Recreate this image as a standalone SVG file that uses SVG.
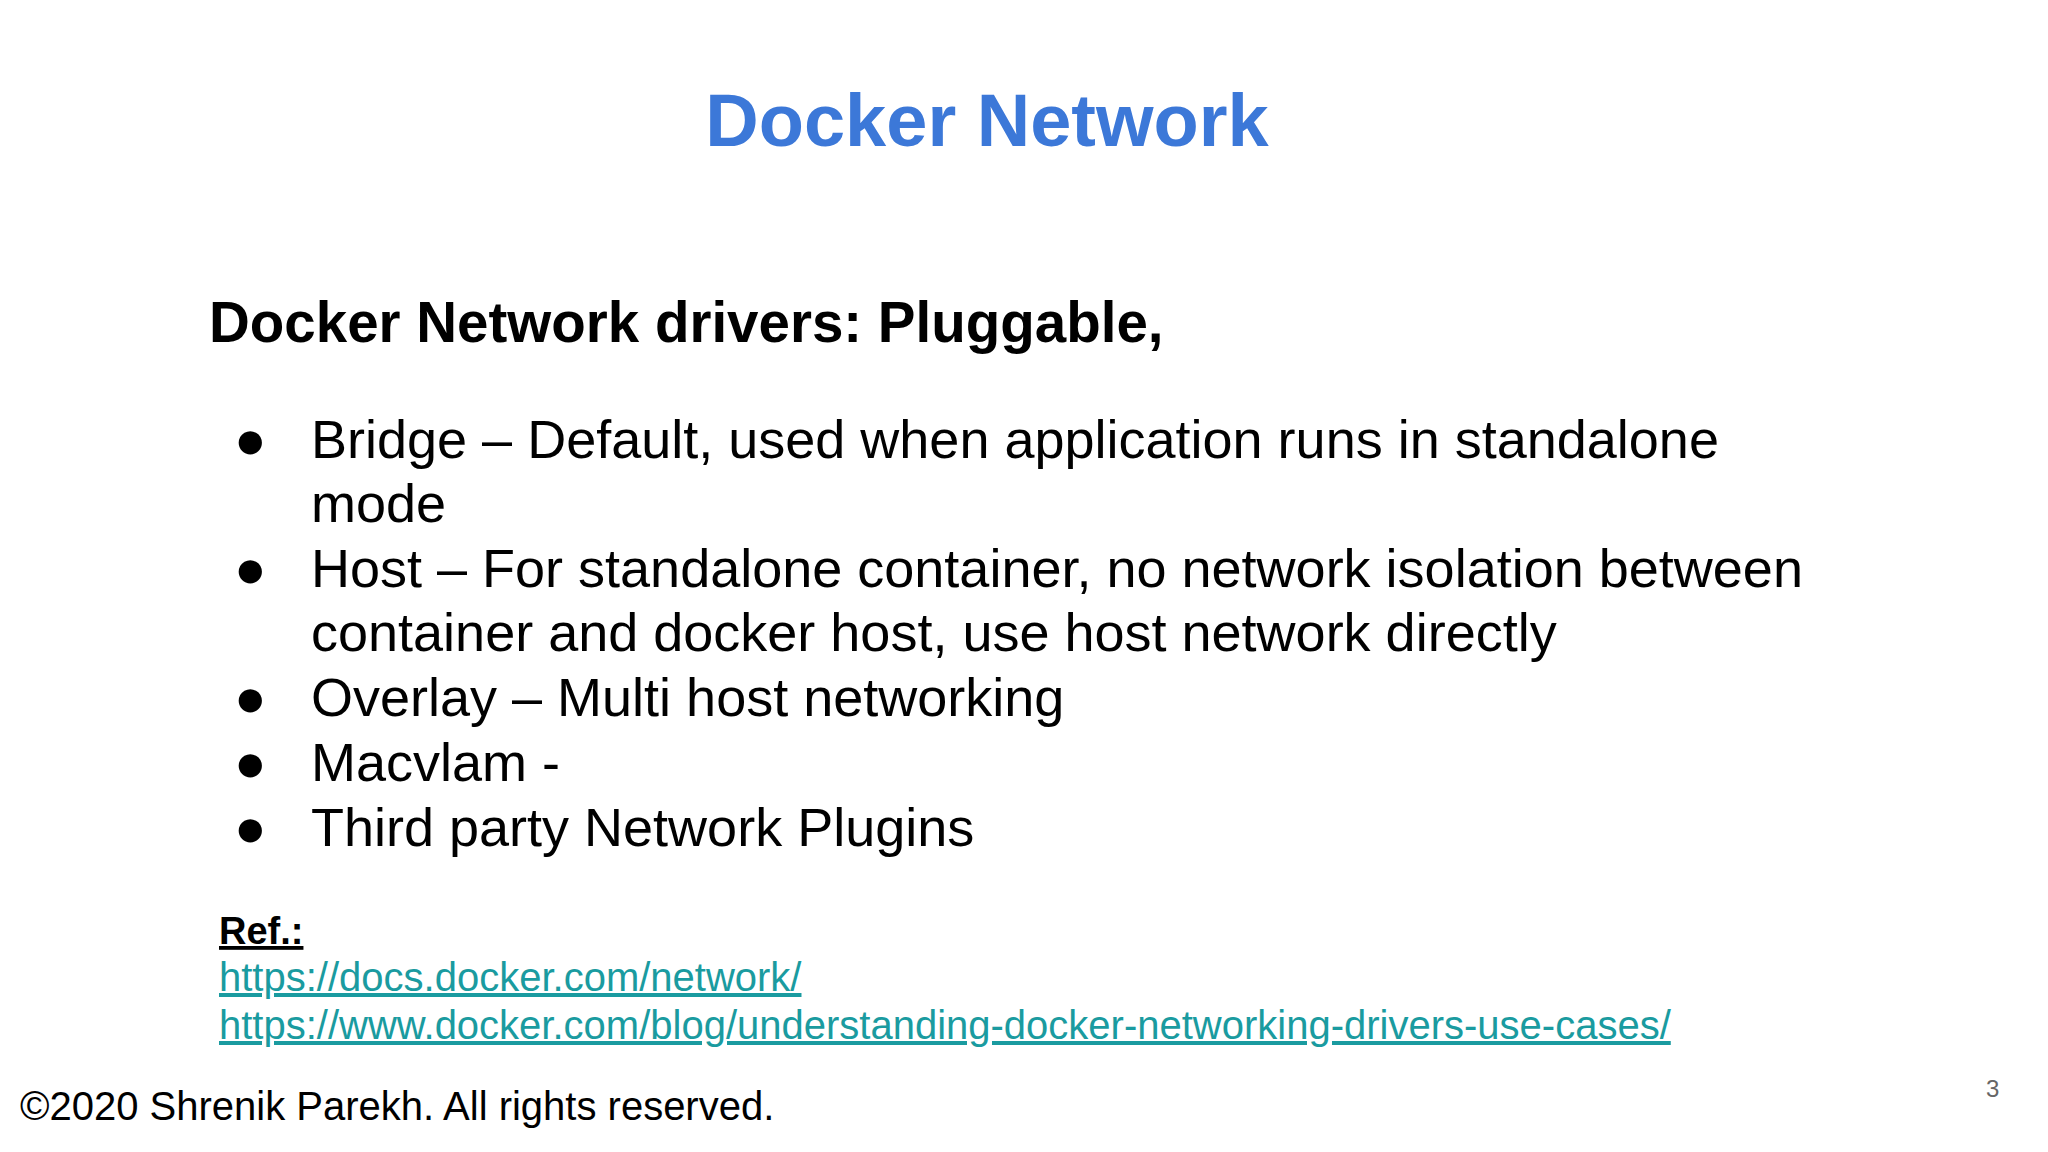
<svg xmlns="http://www.w3.org/2000/svg" width="2048" height="1152" viewBox="0 0 2048 1152">
<style>
text{font-family:"Liberation Sans",Arial,sans-serif;fill:#000}
.b{font-size:54px}
.l{font-size:40px;fill:#1a9ba0;text-decoration:underline}
</style>
<rect width="2048" height="1152" fill="#fff"/>
<g id="title"><text x="987" y="146" text-anchor="middle" font-size="74" font-weight="bold" style="fill:#3c78d8">Docker Network</text></g>
<g id="heading"><text x="209" y="342" font-size="56.5" font-weight="bold">Docker Network drivers: Pluggable,</text></g>
<g id="bullets">
<text class="b" x="234" y="458">●</text><text class="b" x="311" y="458">Bridge – Default, used when application runs in standalone</text>
<text class="b" x="311" y="522">mode</text>
<text class="b" x="234" y="587">●</text><text class="b" x="311" y="587">Host – For standalone container, no network isolation between</text>
<text class="b" x="311" y="651">container and docker host, use host network directly</text>
<text class="b" x="234" y="716">●</text><text class="b" x="311" y="716">Overlay – Multi host networking</text>
<text class="b" x="234" y="781">●</text><text class="b" x="311" y="781">Macvlam -</text>
<text class="b" x="234" y="846">●</text><text class="b" x="311" y="846">Third party Network Plugins</text>
</g>
<g id="refs">
<text x="219" y="944" font-size="38" font-weight="bold" text-decoration="underline">Ref.:</text>
<text class="l" x="219" y="991">https://docs.docker.com/network/</text>
<text class="l" x="219" y="1039">https://www.docker.com/blog/understanding-docker-networking-drivers-use-cases/</text>
</g>
<g id="footer">
<text x="20" y="1120" font-size="40">©2020 Shrenik Parekh. All rights reserved.</text>
<text x="1986" y="1097" font-size="24" style="fill:#666">3</text>
</g>
</svg>
